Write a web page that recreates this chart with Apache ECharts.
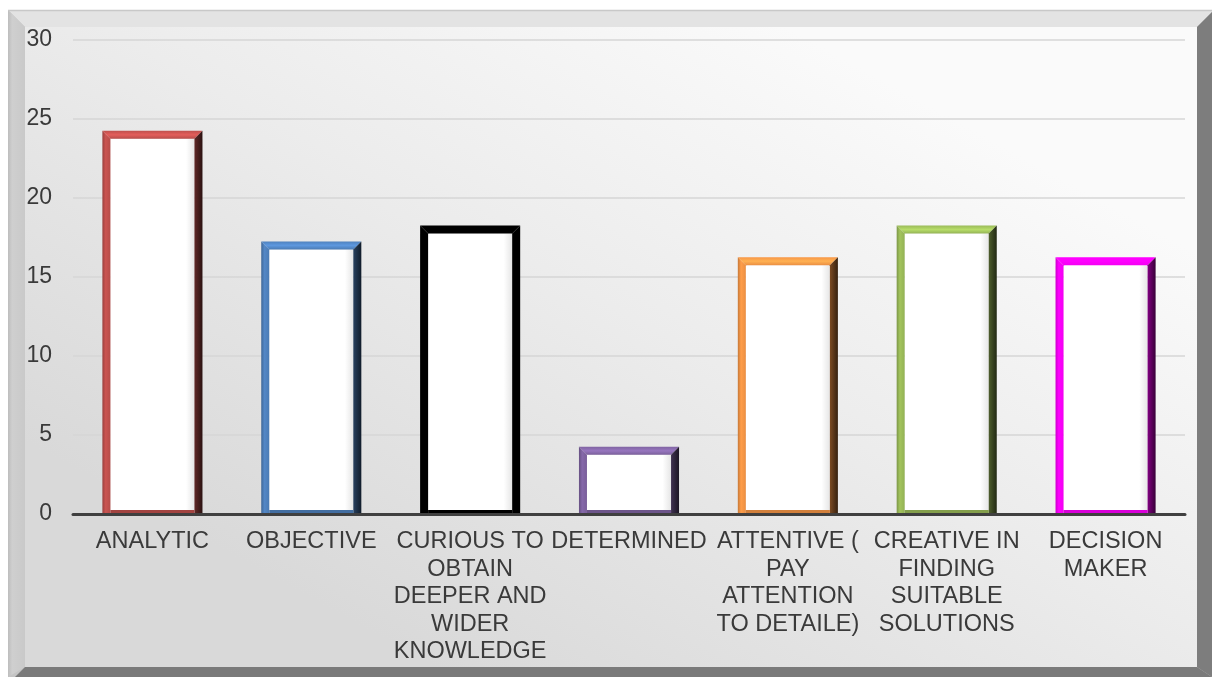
<!DOCTYPE html>
<html>
<head>
<meta charset="utf-8">
<title>Traits</title>
<script src="https://cdn.jsdelivr.net/npm/echarts@6/dist/echarts.min.js"></script>
<style>
  html, body { margin: 0; padding: 0; background: #ffffff; }
  #chart { width: 1212px; height: 677px; }
</style>
</head>
<body>
<div id="chart"></div>
<script>
// Categories (line breaks as they wrap under each bar)
const categories = [
  'ANALYTIC',
  'OBJECTIVE',
  'CURIOUS TO\nOBTAIN\nDEEPER AND\nWIDER\nKNOWLEDGE',
  'DETERMINED',
  'ATTENTIVE (\nPAY\nATTENTION\nTO DETAILE)',
  'CREATIVE IN\nFINDING\nSUITABLE\nSOLUTIONS',
  'DECISION\nMAKER'
];
const values = [24, 17, 18, 4, 16, 18, 16];
const barColors = ['#C0504D', '#4F81BD', '#000000', '#8064A2', '#F79646', '#9BBB59', '#FF00FF'];
const yTicks = { min: 0, max: 30, step: 5 };

function scale(hex, f) {
  const n = parseInt(hex.slice(1), 16);
  const ch = [(n >> 16) & 255, (n >> 8) & 255, n & 255].map(c => Math.max(0, Math.min(255, Math.round(c * f))));
  return 'rgb(' + ch.join(',') + ')';
}

const chart = echarts.init(document.getElementById('chart'));
const FONT = '"Liberation Sans", Arial, sans-serif';

// Bevelled frame around the chart panel
const frame = [
  { type: 'rect', shape: { x: 8, y: 10, width: 1204, height: 667 }, style: { fill: '#c4c4c4' }, z: -10 },
  { type: 'polygon', shape: { points: [[8, 10], [1212, 10], [1212, 12], [1197, 27], [25, 27]] },
    style: { fill: '#e3e3e3' }, z: -9 },
  { type: 'polyline', shape: { points: [[8, 10.5], [1212, 10.5]] }, style: { stroke: '#c8c8c8', lineWidth: 1.5 }, z: -8 },
  { type: 'polygon', shape: { points: [[8, 10], [25, 27], [25, 667], [8, 677]] },
    style: { fill: new echarts.graphic.LinearGradient(0, 0, 1, 0, [
      { offset: 0, color: '#bdbdbd' }, { offset: 0.25, color: '#cfcfcf' }, { offset: 1, color: '#c9c9c9' }]) }, z: -9 },
  { type: 'polygon', shape: { points: [[1197, 27], [1212, 12], [1212, 677], [1197, 667]] },
    style: { fill: '#7d7d7d' }, z: -9 },
  { type: 'polygon', shape: { points: [[25, 667], [1197, 667], [1212, 677], [15, 677]] },
    style: { fill: '#7a7a7a' }, z: -9 },
  { type: 'rect', shape: { x: 25, y: 27, width: 1172, height: 640 },
    style: { fill: new echarts.graphic.LinearGradient(0.65, 0, 0.35, 1, [
      { offset: 0, color: '#fafafa' }, { offset: 0.45, color: '#ececec' }, { offset: 1, color: '#d9d9d9' }]) }, z: -8 }
];

// Hollow bar with a bevelled coloured border
function renderBar(params, api) {
  const i = api.value(0);
  const top = api.coord([i, api.value(1)]);
  const base = api.coord([i, 0]);
  const w = api.size([1, 0])[0] * 0.63;
  const b = 8;
  const c = barColors[i];
  const x0 = top[0] - w / 2, x1 = top[0] + w / 2;
  const y0 = top[1] - b / 2, y1 = base[1];
  return {
    type: 'group',
    children: [
      { type: 'rect', shape: { x: x0 + b, y: y0 + b, width: w - 2 * b, height: y1 - y0 - b },
        style: { fill: new echarts.graphic.LinearGradient(0, 0, 1, 0, [
          { offset: 0, color: '#ffffff' }, { offset: 0.9, color: '#ffffff' }, { offset: 1, color: '#e6e6e6' }]) } },
      { type: 'polygon', shape: { points: [[x0, y0], [x1, y0], [x1 - b, y0 + b], [x0 + b, y0 + b]] },
        style: { fill: new echarts.graphic.LinearGradient(0, 0, 0, 1, [
          { offset: 0, color: scale(c, 1.0) }, { offset: 0.5, color: scale(c, 1.18) }, { offset: 1, color: scale(c, 0.95) }]) } },
      { type: 'polygon', shape: { points: [[x0, y0], [x0 + b, y0 + b], [x0 + b, y1], [x0, y1]] },
        style: { fill: new echarts.graphic.LinearGradient(0, 0, 1, 0, [
          { offset: 0, color: scale(c, 0.8) }, { offset: 0.4, color: scale(c, 1.05) }, { offset: 1, color: scale(c, 0.95) }]) } },
      { type: 'polygon', shape: { points: [[x1, y0], [x1, y1], [x1 - b, y1], [x1 - b, y0 + b]] },
        style: { fill: new echarts.graphic.LinearGradient(0, 0, 1, 0, [
          { offset: 0, color: scale(c, 0.5) }, { offset: 1, color: scale(c, 0.22) }]) } },
      { type: 'polygon', shape: { points: [[x0 + b, y1 - 4], [x1 - b, y1 - 4], [x1 - b, y1], [x0 + b, y1]] },
        style: { fill: scale(c, 0.85) } }
    ]
  };
}

chart.setOption({
  backgroundColor: '#ffffff',
  animation: false,
  graphic: frame,
  grid: { left: 73, right: 27, top: 40, bottom: 163 },
  xAxis: {
    type: 'category',
    data: categories,
    z: 5,
    axisLine: { lineStyle: { color: '#404040', width: 3 } },
    axisTick: { show: false },
    axisLabel: { interval: 0, margin: 14, color: '#3a3a3a', fontSize: 23.5, fontFamily: FONT,
      lineHeight: 27.5, align: 'center' }
  },
  yAxis: {
    type: 'value',
    min: yTicks.min, max: yTicks.max, interval: yTicks.step,
    axisLine: { show: false },
    axisTick: { show: false },
    axisLabel: { margin: 21, color: '#3a3a3a', fontSize: 23, fontFamily: FONT },
    splitLine: { lineStyle: { color: '#d6d6d6', width: 1.5 } }
  },
  series: [{
    type: 'custom',
    z: 2,
    renderItem: renderBar,
    encode: { x: 0, y: 1 },
    data: values.map((v, i) => [i, v])
  }]
});
</script>
</body>
</html>
